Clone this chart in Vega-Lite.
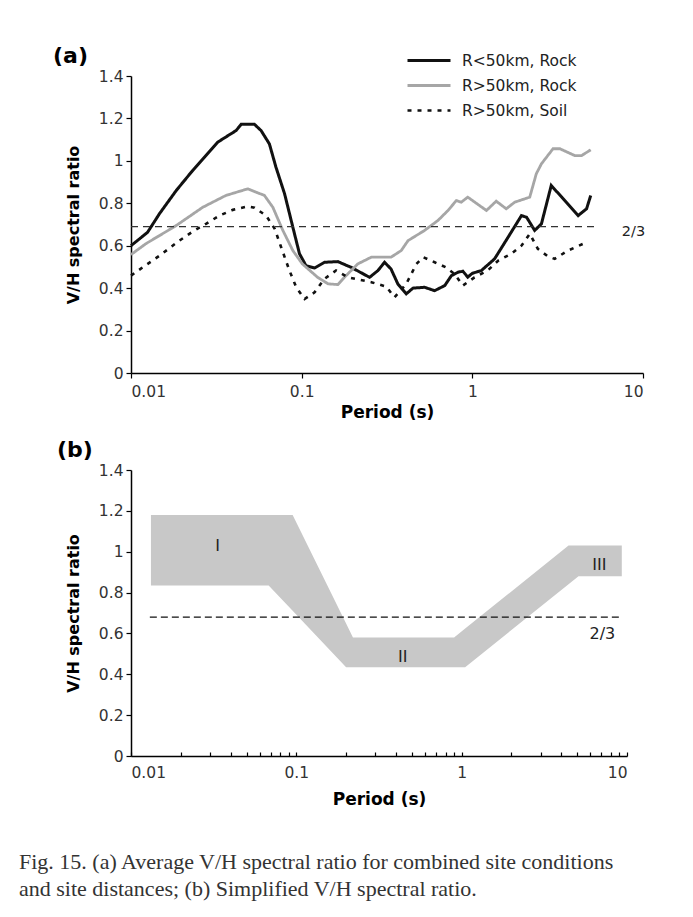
{
  "$schema": "https://vega.github.io/schema/vega-lite/v6.json",
  "background": "white",
  "padding": {"left": 19, "top": 45, "right": 5, "bottom": 10},
  "spacing": 18,
  "config": {
    "font": "DejaVu Sans",
    "view": {"stroke": null},
    "axis": {
      "grid": false,
      "domainColor": "#000",
      "domainWidth": 1.5,
      "tickColor": "#000",
      "tickWidth": 1.2,
      "tickSize": 5,
      "labelFont": "DejaVu Sans",
      "labelFontSize": 15.5,
      "labelColor": "#333",
      "labelPadding": 3,
      "titleFont": "DejaVu Sans",
      "titleFontSize": 16,
      "titleFontWeight": "bold",
      "titleColor": "#000"
    },
    "legend": {"padding": 0}
  },
  "title": {
    "text": ["Fig. 15. (a) Average V/H spectral ratio for combined site conditions", "and site distances; (b) Simplified V/H spectral ratio."],
    "orient": "bottom",
    "anchor": "start",
    "frame": "group",
    "font": "Liberation Serif",
    "fontSize": 22,
    "fontWeight": "normal",
    "color": "#333",
    "lineHeight": 27,
    "offset": 44,
    "dx": -112
  },
  "datasets": {
    "curves": [
      {"s": "R<50km, Rock", "T": 0.01, "V": 0.6},
      {"s": "R<50km, Rock", "T": 0.0125, "V": 0.663},
      {"s": "R<50km, Rock", "T": 0.01466, "V": 0.75},
      {"s": "R<50km, Rock", "T": 0.0184, "V": 0.86},
      {"s": "R<50km, Rock", "T": 0.023, "V": 0.955},
      {"s": "R<50km, Rock", "T": 0.0322, "V": 1.088},
      {"s": "R<50km, Rock", "T": 0.0413, "V": 1.143},
      {"s": "R<50km, Rock", "T": 0.0442, "V": 1.172},
      {"s": "R<50km, Rock", "T": 0.0529, "V": 1.172},
      {"s": "R<50km, Rock", "T": 0.0578, "V": 1.143},
      {"s": "R<50km, Rock", "T": 0.0647, "V": 1.08},
      {"s": "R<50km, Rock", "T": 0.0707, "V": 0.97},
      {"s": "R<50km, Rock", "T": 0.0794, "V": 0.845},
      {"s": "R<50km, Rock", "T": 0.0888, "V": 0.687},
      {"s": "R<50km, Rock", "T": 0.0971, "V": 0.562},
      {"s": "R<50km, Rock", "T": 0.106, "V": 0.506},
      {"s": "R<50km, Rock", "T": 0.119, "V": 0.495},
      {"s": "R<50km, Rock", "T": 0.136, "V": 0.522},
      {"s": "R<50km, Rock", "T": 0.163, "V": 0.525},
      {"s": "R<50km, Rock", "T": 0.195, "V": 0.498},
      {"s": "R<50km, Rock", "T": 0.25, "V": 0.451},
      {"s": "R<50km, Rock", "T": 0.28, "V": 0.483},
      {"s": "R<50km, Rock", "T": 0.306, "V": 0.522},
      {"s": "R<50km, Rock", "T": 0.334, "V": 0.49},
      {"s": "R<50km, Rock", "T": 0.366, "V": 0.42},
      {"s": "R<50km, Rock", "T": 0.41, "V": 0.373},
      {"s": "R<50km, Rock", "T": 0.449, "V": 0.4},
      {"s": "R<50km, Rock", "T": 0.525, "V": 0.404},
      {"s": "R<50km, Rock", "T": 0.601, "V": 0.388},
      {"s": "R<50km, Rock", "T": 0.689, "V": 0.412},
      {"s": "R<50km, Rock", "T": 0.754, "V": 0.459},
      {"s": "R<50km, Rock", "T": 0.824, "V": 0.475},
      {"s": "R<50km, Rock", "T": 0.88, "V": 0.48},
      {"s": "R<50km, Rock", "T": 0.94, "V": 0.452},
      {"s": "R<50km, Rock", "T": 1.0, "V": 0.47},
      {"s": "R<50km, Rock", "T": 1.13, "V": 0.483},
      {"s": "R<50km, Rock", "T": 1.35, "V": 0.538},
      {"s": "R<50km, Rock", "T": 1.62, "V": 0.64},
      {"s": "R<50km, Rock", "T": 1.94, "V": 0.742},
      {"s": "R<50km, Rock", "T": 2.08, "V": 0.734},
      {"s": "R<50km, Rock", "T": 2.32, "V": 0.672},
      {"s": "R<50km, Rock", "T": 2.54, "V": 0.703},
      {"s": "R<50km, Rock", "T": 2.9, "V": 0.884},
      {"s": "R<50km, Rock", "T": 4.17, "V": 0.742},
      {"s": "R<50km, Rock", "T": 4.67, "V": 0.774},
      {"s": "R<50km, Rock", "T": 4.94, "V": 0.837},
      {"s": "R>50km, Rock", "T": 0.01, "V": 0.558},
      {"s": "R>50km, Rock", "T": 0.0122, "V": 0.609},
      {"s": "R>50km, Rock", "T": 0.0184, "V": 0.695},
      {"s": "R>50km, Rock", "T": 0.0263, "V": 0.781},
      {"s": "R>50km, Rock", "T": 0.036, "V": 0.837},
      {"s": "R>50km, Rock", "T": 0.0483, "V": 0.868},
      {"s": "R>50km, Rock", "T": 0.0605, "V": 0.837},
      {"s": "R>50km, Rock", "T": 0.0678, "V": 0.781},
      {"s": "R>50km, Rock", "T": 0.0776, "V": 0.672},
      {"s": "R>50km, Rock", "T": 0.0888, "V": 0.577},
      {"s": "R>50km, Rock", "T": 0.101, "V": 0.514},
      {"s": "R>50km, Rock", "T": 0.124, "V": 0.451},
      {"s": "R>50km, Rock", "T": 0.143, "V": 0.42},
      {"s": "R>50km, Rock", "T": 0.163, "V": 0.417},
      {"s": "R>50km, Rock", "T": 0.178, "V": 0.451},
      {"s": "R>50km, Rock", "T": 0.213, "V": 0.514},
      {"s": "R>50km, Rock", "T": 0.256, "V": 0.546},
      {"s": "R>50km, Rock", "T": 0.334, "V": 0.546},
      {"s": "R>50km, Rock", "T": 0.383, "V": 0.577},
      {"s": "R>50km, Rock", "T": 0.42, "V": 0.624},
      {"s": "R>50km, Rock", "T": 0.525, "V": 0.672},
      {"s": "R>50km, Rock", "T": 0.629, "V": 0.719},
      {"s": "R>50km, Rock", "T": 0.72, "V": 0.766},
      {"s": "R>50km, Rock", "T": 0.806, "V": 0.813},
      {"s": "R>50km, Rock", "T": 0.861, "V": 0.805},
      {"s": "R>50km, Rock", "T": 0.94, "V": 0.829},
      {"s": "R>50km, Rock", "T": 1.21, "V": 0.766},
      {"s": "R>50km, Rock", "T": 1.38, "V": 0.81},
      {"s": "R>50km, Rock", "T": 1.58, "V": 0.774},
      {"s": "R>50km, Rock", "T": 1.77, "V": 0.805},
      {"s": "R>50km, Rock", "T": 2.17, "V": 0.829},
      {"s": "R>50km, Rock", "T": 2.37, "V": 0.939},
      {"s": "R>50km, Rock", "T": 2.54, "V": 0.986},
      {"s": "R>50km, Rock", "T": 2.97, "V": 1.057},
      {"s": "R>50km, Rock", "T": 3.26, "V": 1.057},
      {"s": "R>50km, Rock", "T": 3.98, "V": 1.025},
      {"s": "R>50km, Rock", "T": 4.37, "V": 1.025},
      {"s": "R>50km, Rock", "T": 4.94, "V": 1.052},
      {"s": "R>50km, Soil", "T": 0.01, "V": 0.459},
      {"s": "R>50km, Soil", "T": 0.0117, "V": 0.498},
      {"s": "R>50km, Soil", "T": 0.0147, "V": 0.553},
      {"s": "R>50km, Soil", "T": 0.0192, "V": 0.624},
      {"s": "R>50km, Soil", "T": 0.023, "V": 0.667},
      {"s": "R>50km, Soil", "T": 0.0275, "V": 0.703},
      {"s": "R>50km, Soil", "T": 0.033, "V": 0.742},
      {"s": "R>50km, Soil", "T": 0.0395, "V": 0.769},
      {"s": "R>50km, Soil", "T": 0.0483, "V": 0.785},
      {"s": "R>50km, Soil", "T": 0.0529, "V": 0.779},
      {"s": "R>50km, Soil", "T": 0.0619, "V": 0.742},
      {"s": "R>50km, Soil", "T": 0.0695, "V": 0.68},
      {"s": "R>50km, Soil", "T": 0.0758, "V": 0.593},
      {"s": "R>50km, Soil", "T": 0.0848, "V": 0.483},
      {"s": "R>50km, Soil", "T": 0.0929, "V": 0.404},
      {"s": "R>50km, Soil", "T": 0.104, "V": 0.349},
      {"s": "R>50km, Soil", "T": 0.119, "V": 0.38},
      {"s": "R>50km, Soil", "T": 0.136, "V": 0.444},
      {"s": "R>50km, Soil", "T": 0.159, "V": 0.483},
      {"s": "R>50km, Soil", "T": 0.187, "V": 0.451},
      {"s": "R>50km, Soil", "T": 0.256, "V": 0.428},
      {"s": "R>50km, Soil", "T": 0.313, "V": 0.407},
      {"s": "R>50km, Soil", "T": 0.35, "V": 0.357},
      {"s": "R>50km, Soil", "T": 0.41, "V": 0.42},
      {"s": "R>50km, Soil", "T": 0.47, "V": 0.514},
      {"s": "R>50km, Soil", "T": 0.516, "V": 0.546},
      {"s": "R>50km, Soil", "T": 0.601, "V": 0.522},
      {"s": "R>50km, Soil", "T": 0.7, "V": 0.498},
      {"s": "R>50km, Soil", "T": 0.786, "V": 0.467},
      {"s": "R>50km, Soil", "T": 0.88, "V": 0.412},
      {"s": "R>50km, Soil", "T": 1.03, "V": 0.451},
      {"s": "R>50km, Soil", "T": 1.23, "V": 0.483},
      {"s": "R>50km, Soil", "T": 1.42, "V": 0.53},
      {"s": "R>50km, Soil", "T": 1.69, "V": 0.562},
      {"s": "R>50km, Soil", "T": 1.94, "V": 0.6},
      {"s": "R>50km, Soil", "T": 2.17, "V": 0.656},
      {"s": "R>50km, Soil", "T": 2.42, "V": 0.585},
      {"s": "R>50km, Soil", "T": 2.78, "V": 0.549},
      {"s": "R>50km, Soil", "T": 3.04, "V": 0.538},
      {"s": "R>50km, Soil", "T": 3.63, "V": 0.577},
      {"s": "R>50km, Soil", "T": 4.67, "V": 0.616}
    ],
    "band": [
      {"T": 0.0132, "hi": 1.18, "lo": 0.835},
      {"T": 0.068, "hi": 1.18, "lo": 0.835},
      {"T": 0.095, "hi": 1.18, "lo": 0.711},
      {"T": 0.2, "hi": 0.648, "lo": 0.435},
      {"T": 0.22, "hi": 0.58, "lo": 0.435},
      {"T": 0.9, "hi": 0.58, "lo": 0.435},
      {"T": 1.05, "hi": 0.624, "lo": 0.435},
      {"T": 4.43, "hi": 1.03, "lo": 0.841},
      {"T": 5.09, "hi": 1.03, "lo": 0.88},
      {"T": 9.3, "hi": 1.03, "lo": 0.88}
    ]
  },
  "vconcat": [
    {
      "width": 512,
      "height": 297,
      "title": {"text": "(a)", "anchor": "start", "frame": "group", "font": "DejaVu Sans", "fontSize": 22, "fontWeight": "bold", "color": "#000", "dx": -78, "offset": 1},
      "encoding": {
        "x": {"field": "T", "type": "quantitative", "scale": {"type": "log", "domain": [0.01, 10]},
              "axis": {"values": [0.01, 0.1, 1, 10], "format": "~g", "title": "Period (s)", "titleFontSize": 17, "labelPadding": 6, "titlePadding": 5}},
        "y": {"field": "V", "type": "quantitative", "scale": {"domain": [0, 1.4], "nice": false},
              "axis": {"values": [0, 0.2, 0.4, 0.6, 0.8, 1, 1.2, 1.4], "format": "~g", "title": "V/H spectral ratio", "titlePadding": 17}}
      },
      "layer": [
        {
          "data": {"name": "curves"},
          "mark": {"type": "line"},
          "encoding": {
            "detail": {"field": "s"},
            "color": {"field": "s", "type": "nominal",
                      "scale": {"domain": ["R<50km, Rock", "R>50km, Rock", "R>50km, Soil"], "range": ["#111111", "#a6a6a6", "#111111"]},
                      "legend": {"orient": "none", "legendX": 303, "legendY": -27, "title": null, "labelFont": "DejaVu Sans", "labelFontSize": 15.5, "labelColor": "#222", "symbolType": "M-3.8,0H0.5", "symbolSize": 400, "rowPadding": 5, "labelOffset": 5}},
            "strokeDash": {"field": "s", "type": "nominal",
                      "scale": {"domain": ["R<50km, Rock", "R>50km, Rock", "R>50km, Soil"], "range": [[1, 0], [1, 0], [4, 6]]}},
            "strokeWidth": {"field": "s", "type": "nominal",
                      "scale": {"domain": ["R<50km, Rock", "R>50km, Rock", "R>50km, Soil"], "range": [3, 2.6, 2.6]}}
          }
        },
        {
          "data": {"values": [{"T": 0.01, "V": 0.69}, {"T": 5.3, "V": 0.69}]},
          "mark": {"type": "line", "color": "#333", "strokeWidth": 1.1, "strokeDash": [7, 5]},
          "encoding": {}
        },
        {
          "data": {"values": [{"T": 8.8, "V": 0.663, "label": "2/3"}]},
          "mark": {"type": "text", "font": "DejaVu Sans", "fontSize": 14.5, "color": "#222"},
          "encoding": {"text": {"field": "label"}}
        }
      ]
    },
    {
      "width": 496,
      "height": 286,
      "title": {"text": "(b)", "anchor": "start", "frame": "group", "font": "DejaVu Sans", "fontSize": 22, "fontWeight": "bold", "color": "#000", "dx": -74, "offset": 1},
      "encoding": {
        "x": {"field": "T", "type": "quantitative", "scale": {"type": "log", "domain": [0.01, 10]},
              "axis": {"values": [0.01, 0.02, 0.03, 0.04, 0.05, 0.06, 0.07, 0.08, 0.09, 0.1, 0.2, 0.3, 0.4, 0.5, 0.6, 0.7, 0.8, 0.9, 1, 2, 3, 4, 5, 6, 7, 8, 9, 10],
                       "labelExpr": "indexof([0.01, 0.1, 1, 10], datum.value) >= 0 ? format(datum.value, '~g') : ''",
                       "tickSize": -4, "labelPadding": 13, "title": "Period (s)", "titleFontSize": 17, "titlePadding": 11}},
        "y": {"field": "V", "type": "quantitative", "scale": {"domain": [0, 1.4], "nice": false},
              "axis": {"values": [0, 0.2, 0.4, 0.6, 0.8, 1, 1.2, 1.4], "format": "~g", "title": "V/H spectral ratio", "titlePadding": 17}}
      },
      "layer": [
        {
          "data": {"name": "band"},
          "mark": {"type": "area", "color": "#c8c8c8", "opacity": 1},
          "encoding": {"y": {"field": "hi", "type": "quantitative"}, "y2": {"field": "lo"}}
        },
        {
          "data": {"values": [{"T": 0.013, "V": 0.68}, {"T": 9.1, "V": 0.68}]},
          "mark": {"type": "line", "color": "#111", "strokeWidth": 1.4, "strokeDash": [7, 4]},
          "encoding": {}
        },
        {
          "data": {"values": [
            {"T": 0.0334, "V": 1.03, "label": "I"},
            {"T": 0.44, "V": 0.487, "label": "II"},
            {"T": 6.8, "V": 0.936, "label": "III"},
            {"T": 7.1, "V": 0.596, "label": "2/3"}
          ]},
          "mark": {"type": "text", "font": "DejaVu Sans", "fontSize": 16, "color": "#222"},
          "encoding": {"text": {"field": "label"}}
        }
      ]
    }
  ]
}
